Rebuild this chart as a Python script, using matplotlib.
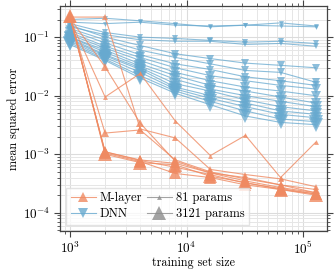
import numpy as np
import matplotlib
matplotlib.use("Agg")
import matplotlib.pyplot as plt
from matplotlib.lines import Line2D

plt.rcParams.update({
    "font.family": "serif",
    "font.serif": ["cmr10"],
    "mathtext.fontset": "cm",
    "axes.formatter.use_mathtext": True,
    "font.size": 9,
})

sizes = [1000, 2000, 4000, 8000, 16000, 32000, 64000, 128000]

dnn_params = [81, 81, 161, 161, 241, 321, 401, 561, 721, 961, 1201, 1601, 2001, 2401, 3121, 3121]
dnn_errors = [
    [0.20, 0.21, 0.19, 0.17, 0.15, 0.16, 0.175, 0.155],
    [0.18, 0.17, 0.18, 0.16, 0.155, 0.16, 0.155, 0.15],
    [0.17, 0.12, 0.10, 0.095, 0.088, 0.082, 0.085, 0.078],
    [0.15, 0.11, 0.09, 0.085, 0.085, 0.075, 0.078, 0.070],
    [0.16, 0.10, 0.072, 0.052, 0.043, 0.036, 0.033, 0.030],
    [0.14, 0.09, 0.060, 0.045, 0.035, 0.027, 0.025, 0.017],
    [0.13, 0.08, 0.050, 0.035, 0.028, 0.021, 0.018, 0.015],
    [0.12, 0.07, 0.045, 0.030, 0.022, 0.018, 0.015, 0.013],
    [0.11, 0.065, 0.040, 0.025, 0.018, 0.014, 0.012, 0.010],
    [0.10, 0.060, 0.035, 0.022, 0.015, 0.012, 0.0095, 0.0075],
    [0.10, 0.055, 0.032, 0.019, 0.013, 0.010, 0.0080, 0.0065],
    [0.095, 0.050, 0.030, 0.016, 0.012, 0.0085, 0.0065, 0.0055],
    [0.09, 0.048, 0.028, 0.014, 0.010, 0.0075, 0.0055, 0.0048],
    [0.085, 0.045, 0.025, 0.013, 0.009, 0.0065, 0.0048, 0.0042],
    [0.08, 0.042, 0.022, 0.012, 0.008, 0.0055, 0.0040, 0.0036],
    [0.075, 0.040, 0.020, 0.011, 0.007, 0.0045, 0.0035, 0.0032],
]

mlayer_params = [81, 161, 241, 401, 801, 1601, 2401, 3121]
mlayer_errors = [
    [0.20, 0.0095, 0.024, 0.0037, 0.00095, 0.0021, 0.00040, 0.0016],
    [0.22, 0.22, 0.0027, 0.0019, 0.00055, 0.00045, 0.00038, 0.00028],
    [0.21, 0.031, 0.0034, 0.00076, 0.00048, 0.00040, 0.00030, 0.00025],
    [0.21, 0.0023, 0.0026, 0.00080, 0.00050, 0.00038, 0.00030, 0.00022],
    [0.22, 0.0011, 0.00080, 0.00070, 0.00048, 0.00035, 0.00027, 0.00022],
    [0.22, 0.0011, 0.00078, 0.00060, 0.00045, 0.00032, 0.00026, 0.00021],
    [0.23, 0.00105, 0.00075, 0.00047, 0.00040, 0.00030, 0.00025, 0.00021],
    [0.23, 0.0010, 0.00072, 0.00066, 0.00042, 0.00033, 0.00025, 0.00020],
]

ORANGE = "#ef8a62"
BLUE = "#67a9cf"
GRAY = "#8c8c8c"

pmin, pmax = 81, 3121
def msize(p):
    return 3.5 + 6.0 * (np.log(p) - np.log(pmin)) / (np.log(pmax) - np.log(pmin))

fig = plt.figure(figsize=(3.35, 2.73), dpi=100)
ax = fig.add_axes([0.179, 0.154, 0.797, 0.824])

for p, e in zip(dnn_params, dnn_errors):
    ax.plot(sizes, e, color=BLUE, marker="v", ms=msize(p), lw=0.8, alpha=0.75,
            markeredgewidth=0)
for p, e in zip(mlayer_params, mlayer_errors):
    ax.plot(sizes, e, color=ORANGE, marker="^", ms=msize(p), lw=0.8, alpha=0.8,
            markeredgewidth=0)

ax.set_xscale("log")
ax.set_yscale("log")
ax.set_xlim(820, 1.6e5)
ax.set_ylim(4.9e-5, 0.34)
ax.set_xlabel("training set size", labelpad=0, fontsize=8.7)
ax.set_ylabel("mean squared error", labelpad=2, fontsize=8.7)

ax.grid(True, which="major", color="#dcdcdc", lw=0.8)
ax.grid(True, which="minor", color="#e6e6e6", lw=0.7)
ax.set_axisbelow(True)
for s in ax.spines.values():
    s.set_color("#444444")
    s.set_linewidth(0.9)
ax.tick_params(which="both", direction="out", top=True, right=True,
               colors="#444444", labelcolor="black", labelsize=9.5)
ax.tick_params(which="major", length=4, width=0.8, pad=3)
ax.tick_params(which="minor", length=2.5, width=0.6)

handles = [
    Line2D([], [], color=ORANGE, marker="^", ms=6.5, lw=0.8, alpha=0.8, markeredgewidth=0),
    Line2D([], [], color=BLUE, marker="v", ms=6.5, lw=0.8, alpha=0.8, markeredgewidth=0),
    Line2D([], [], color=GRAY, marker="^", ms=3.5, lw=0.8, alpha=0.8, markeredgewidth=0),
    Line2D([], [], color=GRAY, marker="^", ms=9.5, lw=0.8, alpha=0.8, markeredgewidth=0),
]
labels = ["M-layer", "DNN", "81 params", "3121 params"]
leg = ax.legend(handles, labels, loc="lower left", ncol=2, fontsize=9,
                handlelength=2.0, columnspacing=0.4, handletextpad=0.3,
                labelspacing=0.3, borderpad=0.35, fancybox=False,
                framealpha=0.8, edgecolor="#dddddd", bbox_to_anchor=(0.0, 0.0))

fig.savefig("out.png", dpi=100)
